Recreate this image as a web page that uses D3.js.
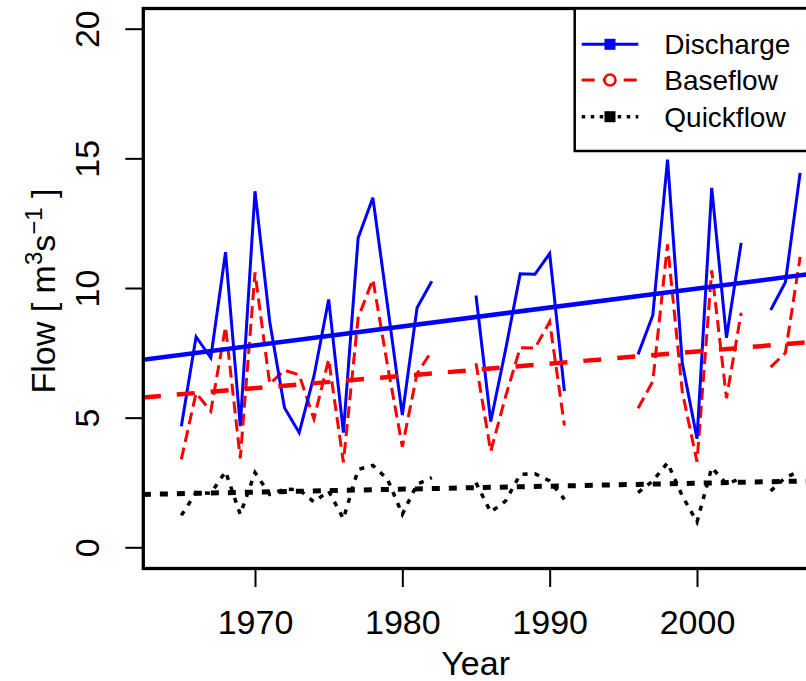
<!DOCTYPE html>
<html>
<head>
<meta charset="utf-8">
<script src="https://cdn.jsdelivr.net/npm/d3@7"></script>
<style>
  html, body { margin: 0; padding: 0; background: #fff; }
  svg { display: block; font-family: "Liberation Sans", Arial, sans-serif; }
</style>
</head>
<body>
<svg id="chart" width="806" height="681"></svg>
<script>
// ---------------- data ----------------
const years = [1965,1966,1967,1968,1969,1970,1971,1972,1973,1974,1975,1976,1977,1978,1979,1980,1981,1982,1983,1984,1985,1986,1987,1988,1989,1990,1991,1992,1993,1994,1995,1996,1997,1998,1999,2000,2001,2002,2003,2004,2005,2006,2007];
const discharge = [4.67,8.12,7.31,11.38,4.67,13.73,8.7,5.38,4.42,6.6,9.56,4.42,11.93,13.48,9.3,5.1,9.24,10.26,null,null,9.71,4.85,7.6,10.55,10.53,11.33,6.02,null,null,null,null,7.44,8.95,14.95,7.12,4.19,13.86,8.08,11.74,null,9.15,10.22,14.44];
const baseflow  = [3.39,5.95,5.25,8.5,3.43,10.6,6.3,6.83,6.65,4.95,7.25,3.28,8.85,10.33,7.0,3.88,6.7,7.57,null,null,7.1,3.7,5.8,7.7,7.68,8.7,4.7,null,null,null,null,5.36,6.4,11.68,6.0,3.3,10.68,5.75,9.05,null,6.95,7.5,11.2];
const quickflow = [1.23,2.11,2.08,2.92,1.27,2.88,2.04,2.24,2.22,1.75,2.17,1.10,3.0,3.16,2.62,1.27,2.43,2.69,null,null,2.49,1.36,1.78,2.81,2.84,2.56,1.85,null,null,null,null,2.11,2.56,3.26,1.98,0.98,3.07,2.45,2.65,null,2.17,2.69,2.94];

// trend lines (endpoints at plot edges)
const trendYears = [1962.39, 2007.57];
const dischargeTrend = [7.23, 10.53];
const baseflowTrend = [5.78, 7.91];
const quickflowTrend = [2.04, 2.56];

const xTicks = [1970, 1980, 1990, 2000];
const yTicks = [0, 5, 10, 15, 20];
const legendLabels = ["Discharge", "Baseflow", "Quickflow"];

// ---------------- layout ----------------
const svg = d3.select("#chart");
const plotL = 143.3, plotR = 808, plotT = 8.5, plotB = 568.5;
const x = d3.scaleLinear().domain([1970, 2000]).range([255, 697]);
const y = d3.scaleLinear().domain([0, 20]).range([547.3, 28.7]);
const FONT = 34;

svg.append("defs").append("clipPath").attr("id", "clip")
  .append("rect").attr("x", plotL).attr("y", plotT)
  .attr("width", plotR - plotL).attr("height", plotB - plotT);

const plot = svg.append("g").attr("clip-path", "url(#clip)");

function series(vals) { return years.map((yr, i) => ({ x: yr, y: vals[i] })); }
const line = d3.line().defined(d => d.y != null).x(d => x(d.x)).y(d => y(d.y));
function trend(vals) { return trendYears.map((yr, i) => ({ x: yr, y: vals[i] })); }

// data lines
plot.append("path").datum(series(quickflow)).attr("d", line)
  .attr("fill", "none").attr("stroke", "#000").attr("stroke-width", 3.5)
  .attr("stroke-dasharray", "5,7");
plot.append("path").datum(series(baseflow)).attr("d", line)
  .attr("fill", "none").attr("stroke", "#ff0000").attr("stroke-width", 3)
  .attr("stroke-dasharray", "12,6");
plot.append("path").datum(series(discharge)).attr("d", line)
  .attr("fill", "none").attr("stroke", "#0000ff").attr("stroke-width", 3);

// trend lines
plot.append("path").datum(trend(quickflowTrend)).attr("d", line)
  .attr("fill", "none").attr("stroke", "#000").attr("stroke-width", 5)
  .attr("stroke-dasharray", "8,9");
plot.append("path").datum(trend(baseflowTrend)).attr("d", line)
  .attr("fill", "none").attr("stroke", "#ff0000").attr("stroke-width", 4.5)
  .attr("stroke-dasharray", "18,16");
plot.append("path").datum(trend(dischargeTrend)).attr("d", line)
  .attr("fill", "none").attr("stroke", "#0000ff").attr("stroke-width", 4.5);

// box (right side off-canvas)
svg.append("rect").attr("x", plotL).attr("y", plotT)
  .attr("width", plotR - plotL).attr("height", plotB - plotT)
  .attr("fill", "none").attr("stroke", "#000").attr("stroke-width", 3.3);

// x axis
const xAxis = d3.axisBottom(x).tickValues(xTicks).tickSize(18.5).tickPadding(0).tickFormat(d3.format("d"));
const gx = svg.append("g").attr("transform", `translate(0,${plotB})`).call(xAxis);
gx.select(".domain").remove();
gx.selectAll(".tick line").attr("stroke", "#000").attr("stroke-width", 2);
gx.selectAll(".tick text").attr("font-size", FONT).attr("fill", "#000")
  .attr("font-family", "Liberation Sans, Arial, sans-serif")
  .attr("dy", null).attr("y", 65.5);

// y axis
const yAxis = d3.axisLeft(y).tickValues(yTicks).tickSize(18).tickPadding(0);
const gy = svg.append("g").attr("transform", `translate(${plotL},0)`).call(yAxis);
gy.select(".domain").remove();
gy.selectAll(".tick line").attr("stroke", "#000").attr("stroke-width", 2);
gy.selectAll(".tick text").attr("font-size", FONT).attr("fill", "#000")
  .attr("font-family", "Liberation Sans, Arial, sans-serif")
  .attr("x", null).attr("dy", null).attr("text-anchor", "middle")
  .attr("transform", "translate(-44,0) rotate(-90)");

// axis titles
svg.append("text").attr("x", (plotL + plotR) / 2).attr("y", 675)
  .attr("text-anchor", "middle").attr("font-size", FONT).text("Year");

const yt = svg.append("text").attr("transform", "translate(55,291) rotate(-90)")
  .attr("text-anchor", "middle").attr("font-size", FONT);
yt.append("tspan").text("Flow [ m");
yt.append("tspan").attr("font-size", 24).attr("dy", -13).text("3");
yt.append("tspan").attr("dy", 13).text("s");
yt.append("tspan").attr("font-size", 24).attr("dy", -13).text("\u22121");
yt.append("tspan").attr("dy", 13).text(" ]");

// legend
const lg = svg.append("g");
lg.append("rect").attr("x", 574.7).attr("y", plotT).attr("width", 260).attr("height", 151 - plotT)
  .attr("fill", "#fff").attr("stroke", "#000").attr("stroke-width", 2.5);
const rows = [44.3, 80, 116.7];
const styles = [
  { color: "#0000ff", dash: null, w: 3, marker: "square" },
  { color: "#ff0000", dash: "13,8", w: 3, marker: "circle" },
  { color: "#000", dash: "3.5,5.5", w: 3.5, marker: "square" }
];
legendLabels.forEach((lab, i) => {
  const s = styles[i], yy = rows[i];
  lg.append("line").attr("x1", 581.7).attr("x2", 638.3).attr("y1", yy).attr("y2", yy)
    .attr("stroke", s.color).attr("stroke-width", s.w)
    .attr("stroke-dasharray", s.dash);
  if (s.marker === "square") {
    lg.append("rect").attr("x", 610 - 5.5).attr("y", yy - 5.5).attr("width", 11).attr("height", 11)
      .attr("fill", s.color);
  } else {
    lg.append("circle").attr("cx", 610).attr("cy", yy).attr("r", 5.5)
      .attr("fill", "#fff").attr("stroke", s.color).attr("stroke-width", 2.5);
  }
  lg.append("text").attr("x", 664.3).attr("y", yy).attr("dy", "0.35em")
    .attr("font-size", 28).text(lab);
});
</script>
</body>
</html>
